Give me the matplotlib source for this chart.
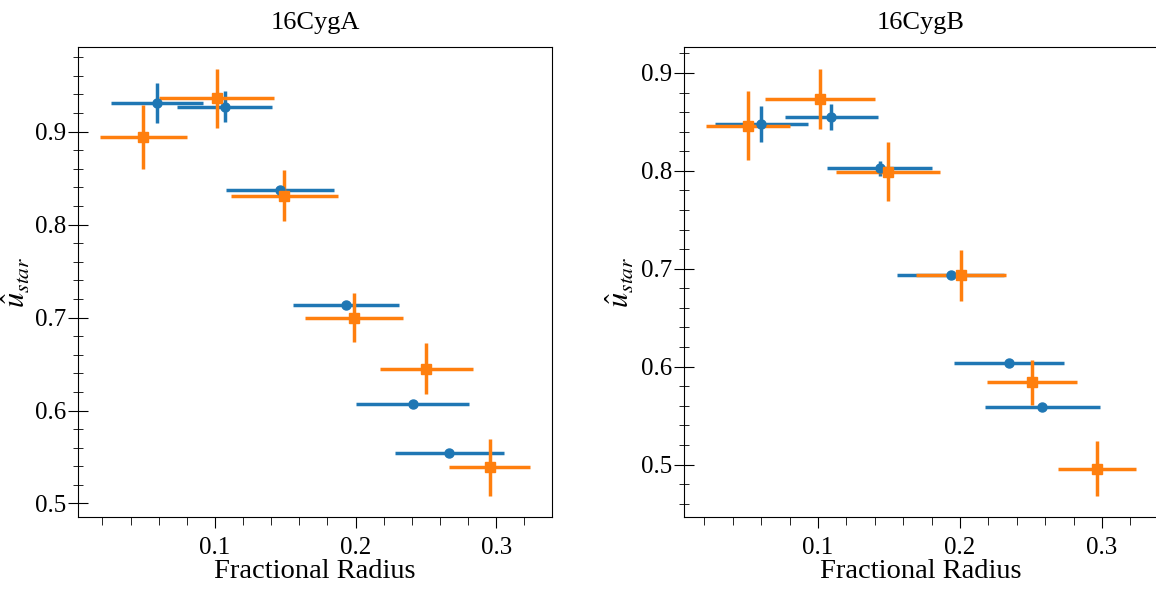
import matplotlib
matplotlib.use("Agg")
import matplotlib.pyplot as plt
from matplotlib.ticker import MultipleLocator

plt.rcParams['font.family'] = ['Liberation Serif', 'DejaVu Serif']
plt.rcParams['mathtext.fontset'] = 'stix'

# 16CygA
a_x1 = [0.0589, 0.1069, 0.1463, 0.1932, 0.2407, 0.2667]
a_xe1 = [0.0325, 0.0336, 0.0386, 0.0380, 0.0400, 0.0387]
a_y1 = [0.9306, 0.9266, 0.8370, 0.7134, 0.6075, 0.5541]
a_ye1 = [0.0215, 0.0167, 0.0040, 0.0020, 0.0020, 0.0020]

a_x2 = [0.0490, 0.1012, 0.1494, 0.1989, 0.2502, 0.2954]
a_xe2 = [0.0310, 0.0410, 0.0378, 0.0347, 0.0330, 0.0290]
a_y2 = [0.8940, 0.9360, 0.8312, 0.7000, 0.6452, 0.5388]
a_ye2 = [0.0346, 0.0318, 0.0274, 0.0260, 0.0278, 0.0305]

# 16CygB
b_x1 = [0.0600, 0.1095, 0.1435, 0.1934, 0.2346, 0.2580]
b_xe1 = [0.0327, 0.0325, 0.0370, 0.0377, 0.0388, 0.0406]
b_y1 = [0.8480, 0.8550, 0.8028, 0.6939, 0.6035, 0.5586]
b_ye1 = [0.0184, 0.0133, 0.0077, 0.0020, 0.0020, 0.0020]

b_x2 = [0.0506, 0.1017, 0.1494, 0.2005, 0.2506, 0.2965]
b_xe2 = [0.0297, 0.0388, 0.0367, 0.0317, 0.0318, 0.0277]
b_y2 = [0.8460, 0.8737, 0.7993, 0.6935, 0.5842, 0.4959]
b_ye2 = [0.0353, 0.0307, 0.0302, 0.0260, 0.0230, 0.0278]

titles = ["16CygA", "16CygB"]
panels = [(a_x1, a_xe1, a_y1, a_ye1, a_x2, a_xe2, a_y2, a_ye2),
          (b_x1, b_xe1, b_y1, b_ye1, b_x2, b_xe2, b_y2, b_ye2)]
label_x = [-0.095, -0.10]

fig = plt.figure(figsize=(11.56, 5.91), dpi=100)
ax1 = fig.add_axes([0.0675, 0.125, 0.41, 0.795])
ax2 = fig.add_axes([0.5917, 0.125, 0.41, 0.795])

for ax, title, p, lx in zip([ax1, ax2], titles, panels, label_x):
    x1, xe1, y1, ye1, x2, xe2, y2, ye2 = p
    ax.errorbar(x1, y1, xerr=xe1, yerr=ye1, fmt='o', color='C0',
                elinewidth=2.5, markersize=6.5, capsize=0)
    ax.errorbar(x2, y2, xerr=xe2, yerr=ye2, fmt='s', color='C1',
                elinewidth=2.5, markersize=6.5, capsize=0)
    ax.set_title(title, fontsize=19, pad=13)
    ax.set_xlabel("Fractional Radius", fontsize=20.5, labelpad=0)
    ax.set_ylabel(r"$\hat{u}_{star}$", fontsize=22)
    ax.yaxis.set_label_coords(lx, 0.5)
    ax.xaxis.set_major_locator(MultipleLocator(0.1))
    ax.xaxis.set_minor_locator(MultipleLocator(0.02))
    ax.yaxis.set_major_locator(MultipleLocator(0.1))
    ax.yaxis.set_minor_locator(MultipleLocator(0.02))
    ax.tick_params(axis='x', which='major', direction='out', length=8, pad=6, labelsize=18)
    ax.tick_params(axis='x', which='minor', direction='out', length=6)
    ax.tick_params(axis='y', which='major', direction='inout', length=14, pad=1.5, labelsize=18)
    ax.tick_params(axis='y', which='minor', direction='inout', length=7)

fig.savefig("out.png", dpi=100)
